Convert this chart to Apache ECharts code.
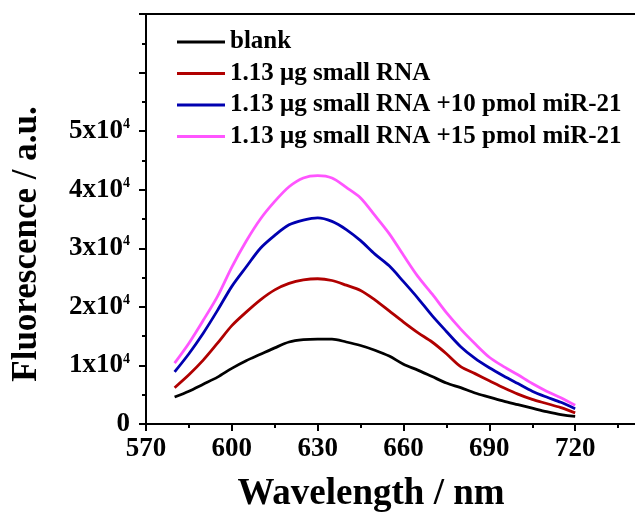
<!DOCTYPE html>
<html>
<head>
<meta charset="utf-8">
<script src="https://cdn.jsdelivr.net/npm/echarts@6/dist/echarts.min.js"></script>
<style>
  html, body { margin: 0; padding: 0; background: #ffffff; }
  #chart { width: 635px; height: 513px; }
</style>
</head>
<body>
<div id="chart"></div>
<script>
// Emission wavelengths (nm), 5 nm steps
const wavelengths = [580, 585, 590, 595, 600, 605, 610, 615, 620, 625, 630, 635, 640, 645, 650,
  655, 660, 665, 670, 675, 680, 685, 690, 695, 700, 705, 710, 715, 720];

// Fluorescence intensity (a.u.) for each sample
const blank = [4600, 5600, 6800, 8000, 9500, 10800, 11900, 13000, 14000, 14400, 14500, 14500, 14000, 13400, 12600,
  11600, 10200, 9200, 8100, 7000, 6200, 5300, 4600, 3900, 3300, 2700, 2100, 1600, 1300];
const smallRNA = [6200, 8400, 10900, 13800, 16800, 19100, 21200, 22900, 24000, 24600, 24800, 24500, 23700, 22800, 21200,
  19300, 17400, 15600, 14000, 12000, 9800, 8600, 7400, 6200, 5100, 4200, 3500, 2800, 1900];
const smallRNA10 = [8900, 12000, 15500, 19400, 23500, 26800, 30000, 32200, 34000, 34800, 35200, 34600, 33200, 31300, 29000,
  27000, 24300, 21500, 18500, 15800, 13200, 11200, 9600, 8200, 6900, 5600, 4600, 3700, 2600];
const smallRNA15 = [10400, 13800, 17700, 21800, 26800, 31200, 35000, 38000, 40500, 42000, 42400, 42000, 40400, 38600, 35600,
  32500, 28800, 25200, 22200, 19000, 16200, 13700, 11400, 9800, 8400, 6900, 5600, 4500, 3200];

const seriesNames = ['blank', '1.13 μg small RNA', '1.13 μg small RNA +10 pmol miR-21', '1.13 μg small RNA +15 pmol miR-21'];
const seriesColors = ['#000000', '#b00000', '#0000b0', '#ff55ff'];
const seriesValues = [blank, smallRNA, smallRNA10, smallRNA15];

const FONT = '"Liberation Serif", "Times New Roman", serif';

const chart = echarts.init(document.getElementById('chart'), null, { renderer: 'canvas' });

const series = seriesNames.map((name, i) => ({
  name: name,
  type: 'line',
  data: wavelengths.map((w, j) => [w, seriesValues[i][j]]),
  showSymbol: false,
  symbol: 'none',
  smooth: 0.3,
  lineStyle: { color: seriesColors[i], width: 2.8 },
  itemStyle: { color: seriesColors[i] },
  z: 3 + i
}));

chart.setOption({
  animation: false,
  backgroundColor: '#ffffff',
  grid: {
    left: 146, top: 14, width: 515, height: 410,
    containLabel: false,
    outerBoundsMode: 'none'
  },
  legend: {
    orient: 'vertical',
    left: 177, top: 29.5,
    icon: 'rect',
    itemWidth: 48, itemHeight: 3,
    itemGap: 6.5,
    padding: 0,
    data: seriesNames,
    textStyle: { fontFamily: FONT, fontWeight: 'bold', fontSize: 25, lineHeight: 25, color: '#000' }
  },
  xAxis: [{
    type: 'value',
    min: 570, max: 750, interval: 30,
    position: 'bottom',
    axisLine: { show: true, onZero: false, lineStyle: { color: '#000', width: 2 } },
    axisTick: { show: true, length: 7, lineStyle: { color: '#000', width: 2 } },
    minorTick: { show: true, splitNumber: 2, length: 4, lineStyle: { color: '#000', width: 2 } },
    splitLine: { show: false },
    axisLabel: { fontFamily: FONT, fontWeight: 'bold', fontSize: 27, color: '#000', margin: 12 }
  }, {
    type: 'value',
    min: 570, max: 750,
    position: 'top',
    axisLine: { show: true, onZero: false, lineStyle: { color: '#000', width: 2 } },
    axisTick: { show: false },
    axisLabel: { show: false },
    splitLine: { show: false }
  }],
  yAxis: {
    type: 'value',
    min: 0, max: 70000, interval: 10000,
    axisLine: { show: true, onZero: false, lineStyle: { color: '#000', width: 2 } },
    axisTick: { show: true, length: 7, lineStyle: { color: '#000', width: 2 } },
    minorTick: { show: true, splitNumber: 2, length: 4, lineStyle: { color: '#000', width: 2 } },
    splitLine: { show: false },
    axisLabel: {
      margin: 16,
      formatter: function (v) {
        if (v === 0) return '{b|0}';
        if (v > 50000) return '';
        return '{b|' + (v / 10000) + 'x10}{s|4}';
      },
      rich: {
        b: { fontFamily: FONT, fontWeight: 'bold', fontSize: 27, lineHeight: 27, color: '#000' },
        s: { fontFamily: FONT, fontWeight: 'bold', fontSize: 14, lineHeight: 14, verticalAlign: 'top', color: '#000' }
      }
    }
  },
  graphic: [{
    type: 'text',
    x: 371, y: 494,
    style: {
      text: 'Wavelength / nm',
      font: 'bold 37px ' + FONT,
      fill: '#000',
      align: 'center', verticalAlign: 'middle'
    }
  }, {
    type: 'text',
    x: 27, y: 244,
    rotation: Math.PI / 2,
    style: {
      text: 'Fluorescence / a.u.',
      font: 'bold 35px ' + FONT,
      fill: '#000',
      align: 'center', verticalAlign: 'middle'
    }
  }],
  series: series
});
</script>
</body>
</html>
